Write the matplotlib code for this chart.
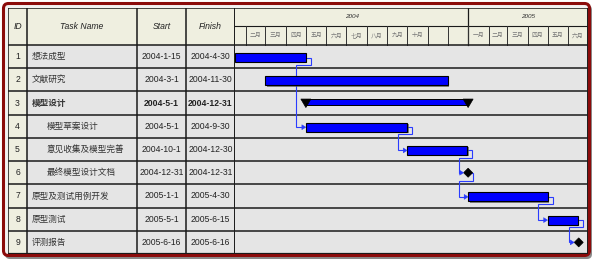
import matplotlib.pyplot as plt
import matplotlib.dates as mdates
import matplotlib.patheffects as pe
from matplotlib.patches import Rectangle, FancyBboxPatch, Polygon
from datetime import datetime

plt.rcParams['font.family'] = ['Liberation Sans', 'Noto Sans CJK SC']

# ---- data ----
task_ids = [1, 2, 3, 4, 5, 6, 7, 8, 9]
task_names = ['想法成型', '文献研究', '模型设计', '模型草案设计', '意见收集及模型完善',
              '最终模型设计文档', '原型及测试用例开发', '原型测试', '评测报告']
start_dates = ['2004-1-15', '2004-3-1', '2004-5-1', '2004-5-1', '2004-10-1',
               '2004-12-31', '2005-1-1', '2005-5-1', '2005-6-16']
finish_dates = ['2004-4-30', '2004-11-30', '2004-12-31', '2004-9-30', '2004-12-30',
                '2004-12-31', '2005-4-30', '2005-6-15', '2005-6-16']
task_kind = ['task', 'task', 'summary', 'task', 'task', 'milestone', 'task', 'task', 'milestone']
name_indent = [0, 0, 0, 1, 1, 1, 0, 0, 0]
links = [(1, 4), (4, 5), (5, 6), (6, 7), (7, 8), (8, 9)]
headers = ['ID', 'Task Name', 'Start', 'Finish']
year_labels = ['2004', '2005']
month_starts = ['2004-1-1', '2004-2-1', '2004-3-1', '2004-4-1', '2004-5-1', '2004-6-1',
                '2004-7-1', '2004-8-1', '2004-9-1', '2004-10-1', '2004-11-1', '2004-12-1',
                '2005-1-1', '2005-2-1', '2005-3-1', '2005-4-1', '2005-5-1', '2005-6-1']
month_labels = ['', '二月', '三月', '四月', '五月', '六月', '七月', '八月', '九月', '十月', '', '',
                '一月', '二月', '三月', '四月', '五月', '六月']
view_start = '2004-1-15'
view_end = '2005-7-1'


def d(s):
    return mdates.date2num(datetime.strptime(s, '%Y-%m-%d'))


BEIGE = '#efefe0'
GRAY = '#e5e5e5'
BLUE = '#0000ff'
LINK = '#2a3cff'

W, H = 594, 261
fig = plt.figure(figsize=(W / 100, H / 100), dpi=100)

# frame
bg = fig.add_axes([0, 0, 1, 1])
bg.set_xlim(0, W)
bg.set_ylim(H, 0)
bg.axis('off')
bg.add_patch(FancyBboxPatch((5, 5), 587, 254, boxstyle='round,pad=0,rounding_size=5',
                            fc='#8a8a8a', ec='none'))
bg.add_patch(FancyBboxPatch((3.5, 3.5), 586, 252, boxstyle='round,pad=0,rounding_size=5',
                            fc='#f2f2f2', ec='#8b0b0b', lw=2.2))

top, bottom = 8, 254
left, split, right = 8, 235, 588
n = len(task_ids)
row_px = (bottom - 45) / n
hdr = (45 - top) / row_px
yr_row = (26 - top) / row_px

tab = fig.add_axes([left / W, 1 - bottom / H, (split - left) / W, (bottom - top) / H])
tab.set_xlim(0, split - left)
tab.set_ylim(n, -hdr)
tab.axis('off')

gan = fig.add_axes([split / W, 1 - bottom / H, (right - split) / W, (bottom - top) / H])
x0, x1 = d(view_start), d(view_end)
gan.set_xlim(x0, x1)
gan.set_ylim(n, -hdr)
gan.axis('off')

dx = (x1 - x0) / (right - split)   # days per pixel
dy = 1 / row_px                    # rows per pixel

# ---- table ----
col_edges = [0, 19, 129, 178, 227]
for c in range(4):
    w = col_edges[c + 1] - col_edges[c]
    tab.add_patch(Rectangle((col_edges[c], -hdr), w, hdr, fc=BEIGE, ec='none'))
    tab.add_patch(Rectangle((col_edges[c], 0), w, n, fc=BEIGE if c == 0 else GRAY, ec='none'))
    tab.text((col_edges[c] + col_edges[c + 1]) / 2, -hdr / 2, headers[c], ha='center',
             va='center', fontsize=6.2, style='italic', color='#222')

for i in range(n):
    yc = i + 0.5
    bold = 'bold' if task_kind[i] == 'summary' else 'normal'
    tab.text(col_edges[0] + 9.5, yc, str(task_ids[i]), ha='center', va='center',
             fontsize=6.2, color='#222')
    tab.text(23.5 + 15 * name_indent[i], yc, task_names[i], ha='left', va='center',
             fontsize=6.2, color='#333', fontweight=bold,
             family=['Noto Sans CJK SC', 'DejaVu Sans'])
    tab.text((col_edges[2] + col_edges[3]) / 2, yc, start_dates[i], ha='center',
             va='center', fontsize=6.2, color='#222', fontweight=bold)
    tab.text((col_edges[3] + col_edges[4]) / 2, yc, finish_dates[i], ha='center',
             va='center', fontsize=6.2, color='#222', fontweight=bold, clip_on=True)

for i in range(n + 1):
    tab.plot([0, col_edges[-1]], [i, i], color='#1a1a1a', lw=1.1 if i < n else 1.6)
tab.plot([0, col_edges[-1]], [-hdr, -hdr], color='#1a1a1a', lw=1.1)
for xe in col_edges:
    tab.plot([xe, xe], [-hdr, n], color='#1a1a1a', lw=1.1 if xe < col_edges[-1] else 1.4)

# ---- gantt header ----
y_split = d('2005-1-1')
year_spans = [(x0, y_split), (y_split, x1)]
gan.add_patch(Rectangle((x0, -hdr), x1 - x0, hdr, fc=BEIGE, ec='none'))
for lab, (a, b) in zip(year_labels, year_spans):
    gan.text((a + b) / 2, -hdr + yr_row / 2, lab, ha='center', va='center',
             fontsize=4.6, style='italic', color='#333')
gan.plot([y_split, y_split], [-hdr, 0], color='#1a1a1a', lw=0.9)
gan.plot([x0, x1], [-hdr + yr_row, -hdr + yr_row], color='#1a1a1a', lw=0.8)
gan.plot([x0, x1], [-hdr, -hdr], color='#1a1a1a', lw=1.1)
for k, ms in enumerate(month_starts):
    a = max(d(ms), x0)
    b = d(month_starts[k + 1]) if k + 1 < len(month_starts) else x1
    if d(ms) > x0:
        gan.plot([a, a], [-hdr + yr_row, 0], color='#333', lw=0.7)
    if month_labels[k]:
        gan.text((a + b) / 2, -hdr + yr_row + (hdr - yr_row) / 2, month_labels[k],
                 ha='center', va='center', fontsize=4.2, color='#777',
                 family=['Noto Sans CJK SC', 'DejaVu Sans'])

# ---- gantt body ----
gan.add_patch(Rectangle((x0, 0), x1 - x0, n, fc=GRAY, ec='none'))
for i in range(n + 1):
    gan.plot([x0, x1], [i, i], color='#1a1a1a', lw=1.1 if i < n else 1.6)
gan.plot([x1, x1], [-hdr, n], color='#1a1a1a', lw=1.4)

shadow = [pe.withSimplePatchShadow(offset=(1, -1), shadow_rgbFace='#555555', alpha=0.7)]
bar_off = 0.04
pos = []   # (start x, end x, y centre) per task
for i in range(n):
    s, f = d(start_dates[i]), d(finish_dates[i]) + 1
    yc = i + 0.5 + bar_off
    if task_kind[i] == 'task':
        gan.barh(yc, f - s, left=s, height=9 * dy, color=BLUE, ec='black', lw=0.8,
                 path_effects=shadow, zorder=3)
        pos.append((s, f, yc))
    elif task_kind[i] == 'summary':
        ytop = i + 7.6 * dy
        gan.barh(ytop + 3 * dy, f - s, left=s, height=6 * dy, color=BLUE, ec='black',
                 lw=0.7, zorder=3)
        for xm in (s, f):
            gan.add_patch(Polygon([(xm - 5 * dx, ytop), (xm + 5 * dx, ytop),
                                   (xm, ytop + 8.5 * dy)], closed=True, fc='black',
                                  ec='black', lw=0.5, zorder=4))
        pos.append((s, f, ytop + 3 * dy))
    else:
        yc = i + 0.5
        gan.add_patch(Polygon([(f - 4.5 * dx, yc), (f, yc - 4.5 * dy), (f + 4.5 * dx, yc),
                               (f, yc + 4.5 * dy)], closed=True, fc='black', ec='black',
                              lw=0.5, zorder=4))
        pos.append((f, f, yc))

for a, b in links:
    ia, ib = a - 1, b - 1
    ea, ya = pos[ia][1], pos[ia][2]
    sb, yb = pos[ib][0], ib + 0.5 + (bar_off if task_kind[ib] == 'task' else 0)
    tip = sb - 4.5 * dx if task_kind[ib] == 'milestone' else sb
    ydown = ia + 0.5 + 8 * dy
    xs = [ea, ea + 5 * dx, ea + 5 * dx, sb - 9.5 * dx, sb - 9.5 * dx, tip - 3 * dx]
    ys = [ya, ya, ydown, ydown, yb, yb]
    gan.plot(xs, ys, color=LINK, lw=0.8, zorder=2, solid_joinstyle='miter')
    gan.add_patch(Polygon([(tip, yb), (tip - 4 * dx, yb - 2.5 * dy),
                           (tip - 4 * dx, yb + 2.5 * dy)], closed=True, fc=LINK,
                          ec=LINK, lw=0.3, zorder=5))

fig.savefig('out.png', dpi=100)
